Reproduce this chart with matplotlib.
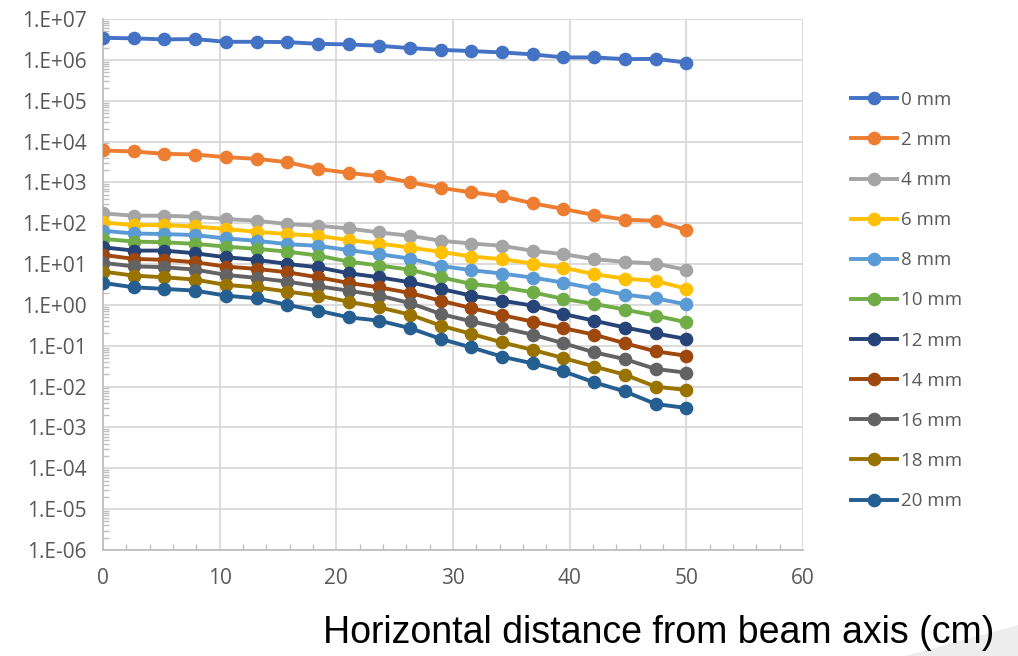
import numpy as np
import matplotlib
matplotlib.use("Agg")
import matplotlib.pyplot as plt
from matplotlib.patches import Polygon
from matplotlib.ticker import LogLocator, MultipleLocator, FuncFormatter, NullFormatter

# horizontal positions (cm), 20 points from 0 to 50
distance = [0.0, 2.63, 5.26, 7.89, 10.53, 13.16, 15.79, 18.42, 21.05, 23.68,
            26.32, 28.95, 31.58, 34.21, 36.84, 39.47, 42.11, 44.74, 47.37, 50.0]

labels = ["0 mm", "2 mm", "4 mm", "6 mm", "8 mm", "10 mm",
          "12 mm", "14 mm", "16 mm", "18 mm", "20 mm"]

d0 = [3.47e6, 3.36e6, 3.17e6, 3.23e6, 2.77e6, 2.77e6, 2.72e6, 2.47e6, 2.39e6, 2.21e6,
      1.94e6, 1.76e6, 1.64e6, 1.52e6, 1.36e6, 1.15e6, 1.15e6, 1.04e6, 1.06e6, 8.6e5]
d2 = [6040, 5710, 5010, 4820, 4140, 3780, 3120, 2140, 1710, 1410,
      1005, 733, 571, 455, 307, 223, 159, 122, 115, 68]
d4 = [174, 153, 153, 144, 127, 115, 95.5, 86.9, 74.5, 59.4,
      49.3, 37.2, 31.9, 28.0, 21.1, 17.5, 13.2, 11.3, 10.3, 7.2]
d6 = [105, 90.3, 90.3, 83.4, 72.0, 61.8, 54.3, 49.3, 38.7, 31.9,
      25.4, 19.9, 15.3, 13.2, 10.3, 8.2, 5.65, 4.41, 3.87, 2.5]
d8 = [65.5, 56.1, 54.3, 51.3, 42.4, 37.2, 30.8, 28.0, 22.0, 17.5,
      13.6, 9.0, 7.08, 5.85, 4.66, 3.52, 2.51, 1.79, 1.45, 1.03]
d10 = [41.5, 35.6, 34.2, 31.3, 26.8, 23.6, 20.2, 16.2, 11.5, 9.2,
       7.3, 4.75, 3.27, 2.70, 2.04, 1.40, 1.06, 0.767, 0.547, 0.375]
d12 = [25.8, 21.4, 21.4, 18.4, 14.7, 12.7, 10.1, 8.36, 5.96, 4.75,
       3.58, 2.47, 1.69, 1.27, 0.96, 0.60, 0.41, 0.28, 0.20, 0.147]
d14 = [16.8, 13.4, 12.7, 11.1, 8.69, 7.63, 6.3, 4.75, 3.46, 2.70,
       1.95, 1.27, 0.835, 0.562, 0.39, 0.27, 0.187, 0.115, 0.073, 0.057]
d16 = [10.7, 8.83, 8.36, 7.33, 5.43, 4.59, 3.72, 2.86, 2.24, 1.69,
       1.11, 0.60, 0.396, 0.273, 0.187, 0.115, 0.069, 0.047, 0.027, 0.022]
d18 = [6.55, 5.22, 4.75, 4.17, 3.09, 2.70, 2.12, 1.69, 1.20, 0.873,
       0.578, 0.311, 0.195, 0.121, 0.079, 0.050, 0.031, 0.0196, 0.00995, 0.0083]
d20 = [3.46, 2.70, 2.47, 2.24, 1.69, 1.45, 1.0, 0.725, 0.497, 0.412,
       0.27, 0.147, 0.091, 0.054, 0.037, 0.0236, 0.0127, 0.0076, 0.00375, 0.0030]

series = [d0, d2, d4, d6, d8, d10, d12, d14, d16, d18, d20]
colors = ["#4472C4", "#ED7D31", "#A5A5A5", "#FFC000", "#5B9BD5", "#70AD47",
          "#264478", "#9E480E", "#636363", "#997300", "#255E91"]

label_color = "#595959"
grid_color = "#D9D9D9"
tick_font = "Open Sans"

fig = plt.figure(figsize=(10.18, 6.56), dpi=100)

# light grey slide decoration in the lower right corner
fig.patches.append(Polygon([(0.889, 0.0), (1.0, 0.047), (1.0, 0.0)], closed=True,
                           transform=fig.transFigure, facecolor="#EDEDED",
                           edgecolor="none", zorder=0))

ax = fig.add_axes([0.1012, 0.1616, 0.6876, 0.8094])

for vals, lab, col in zip(series, labels, colors):
    ax.plot(distance, vals, color=col, lw=2.8, marker="o", ms=8.8,
            label=lab, zorder=3)

ax.set_yscale("log")
ax.set_xlim(0, 60)
ax.set_ylim(1e-6, 1e7)

ax.yaxis.set_major_locator(LogLocator(base=10, numticks=20))
ax.yaxis.set_minor_locator(LogLocator(base=10, subs=np.arange(2, 10), numticks=200))
ax.yaxis.set_minor_formatter(NullFormatter())
ax.yaxis.set_major_formatter(FuncFormatter(lambda v, p: "1.E%+03d" % round(np.log10(v))))
ax.xaxis.set_major_locator(MultipleLocator(10))
ax.xaxis.set_minor_locator(MultipleLocator(2))

ax.grid(True, which="major", color=grid_color, lw=1.3, zorder=0)
for side in ["top", "right"]:
    ax.spines[side].set_visible(False)
for side in ["left", "bottom"]:
    ax.spines[side].set_color("#BFBFBF")
    ax.spines[side].set_linewidth(1.3)

ax.tick_params(which="major", length=0, colors="#BFBFBF", labelcolor=label_color,
               labelsize=15)
ax.tick_params(which="minor", direction="in", length=4, width=1, colors="#BFBFBF")
ax.tick_params(axis="y", which="major", pad=12)
ax.tick_params(axis="x", which="major", pad=13)
for t in ax.get_xticklabels() + ax.get_yticklabels():
    t.set_family(tick_font)

leg = fig.legend(loc="upper left", bbox_to_anchor=(0.836, 0.8615), frameon=False,
                 borderpad=0, borderaxespad=0,
                 handlelength=2.45, handletextpad=0.2, labelspacing=1.18,
                 prop={"family": tick_font, "size": 13.5})
for t in leg.get_texts():
    t.set_color(label_color)

fig.text(0.977, 0.035, "Horizontal distance from beam axis (cm)", ha="right",
         va="center", fontsize=27, color="black", family="Liberation Sans")

fig.savefig("out.png", dpi=100)
